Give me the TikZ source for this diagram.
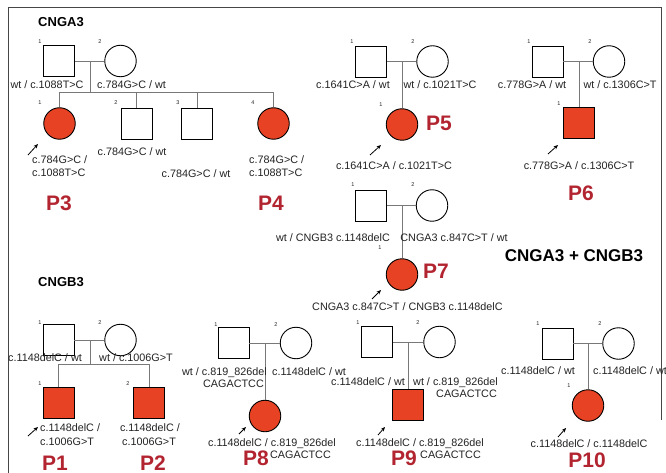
\documentclass[tikz,border=0pt]{standalone}
\usepackage{fontspec}
\setmainfont{Liberation Sans}
\usetikzlibrary{arrows.meta}
\definecolor{affc}{RGB}{232,66,36}
\definecolor{plabc}{RGB}{178,36,48}
\definecolor{lnc}{RGB}{120,120,120}
\definecolor{txtc}{RGB}{35,35,35}
\definecolor{framec}{RGB}{70,70,70}
\tikzset{
  sq/.style={draw=black, line width=0.9pt, minimum size=31pt, inner sep=0pt, fill=white},
  ci/.style={draw=black, circle, line width=0.9pt, minimum size=31.5pt, inner sep=0pt, fill=white},
  affected/.style={fill=affc},
  conn/.style={draw=lnc, line width=0.8pt},
  lab/.style={font=\fontsize{10.8}{13}\selectfont, text=txtc, inner sep=0pt, text height=7.7pt, text depth=0pt},
  num/.style={font=\fontsize{5.5}{6}\selectfont, text=txtc, inner sep=0pt},
  plabel/.style={font=\bfseries\fontsize{21}{24}\selectfont, text=plabc, inner sep=0pt, text height=15pt, text depth=0pt},
  ttl/.style={font=\bfseries\fontsize{13}{15}\selectfont, inner sep=0pt, text height=9.3pt, text depth=0pt},
  ttlbig/.style={font=\bfseries\fontsize{17}{19}\selectfont, inner sep=0pt, text height=12.2pt, text depth=0pt},
  parr/.style={-{Stealth[length=4.5pt,width=3.8pt]}, line width=0.8pt, black},
  framel/.style={draw=framec, line width=0.9pt}
}
\begin{document}
\begin{tikzpicture}[x=1pt,y=-1pt]
\useasboundingbox[fill=white] (0,0) rectangle (666,473);
% frame
\coordinate (fr1) at (8,473);
\coordinate (fr2) at (8,7);
\coordinate (fr3) at (661,7);
\coordinate (fr4) at (661,420);
\draw[framel] (fr1) -- (fr2) -- (fr3) -- (fr4);

% titles
\node[ttl] (t1) at (61,22) {CNGA3};
\node[ttl] (t2) at (61,282) {CNGB3};
\node[ttlbig] (t3) at (574,255) {CNGA3 + CNGB3};

% ===== Family A (P3, P4)
\coordinate (am) at (90,61);
\coordinate (as) at (90,92);
\node[sq] (a1) at (59,61) {};
\node[ci] (a2) at (120.5,61) {};
\node[ci,affected] (a3) at (59.5,123.5) {};
\node[sq] (a4) at (136.5,123.5) {};
\node[sq] (a5) at (197,123.5) {};
\node[ci,affected] (a6) at (273.5,123.5) {};
\draw[conn] (a1) -- (a2);
\draw[conn] (am) -- (as);
\draw[conn] (a3.north) -- (a3.north |- as) -- (a6.north |- as) -- (a6.north);
\draw[conn] (a4.north) -- (a4.north |- as);
\draw[conn] (a5.north) -- (a5.north |- as);
\node[num] (a1n) at (40,42) {1};
\node[num] (a2n) at (100,42) {2};
\node[num] (a3n) at (40,103) {1};
\node[num] (a4n) at (116,103) {2};
\node[num] (a5n) at (178,103) {3};
\node[num] (a6n) at (253,103) {4};
\node[lab] (a1l) at (47,85) {wt / c.1088T>C};
\node[lab] (a2l) at (131.5,85) {c.784G>C / wt};
\node[lab,anchor=west] (a3l1) at (32,160) {c.784G>C /};
\node[lab,anchor=west] (a3l2) at (32,173) {c.1088T>C};
\node[lab] (a4l) at (132,152) {c.784G>C / wt};
\node[lab] (a5l) at (196,174) {c.784G>C / wt};
\node[lab,anchor=west] (a6l1) at (249,160) {c.784G>C /};
\node[lab,anchor=west] (a6l2) at (249,173) {c.1088T>C};
\node[plabel] (p3) at (59,203) {P3};
\node[plabel] (p4) at (271,203) {P4};
\coordinate (a3at) at (28,155);
\coordinate (a3ah) at (38,144);
\draw[parr] (a3at) -- (a3ah);

% ===== Family B (P5)
\coordinate (bm) at (402,61.5);
\node[sq] (b1) at (371,61.5) {};
\node[ci] (b2) at (432.5,61.5) {};
\node[ci,affected] (b3) at (402,124.5) {};
\draw[conn] (b1) -- (b2);
\draw[conn] (bm) -- (b3.north);
\node[num] (b1n) at (352,42) {1};
\node[num] (b2n) at (413,42) {2};
\node[num] (b3n) at (381,105) {1};
\node[lab] (b1l) at (353,85) {c.1641C>A / wt};
\node[lab] (b2l) at (440,85) {wt / c.1021T>C};
\node[lab] (b3l) at (394,166) {c.1641C>A / c.1021T>C};
\node[plabel] (p5) at (439,123) {P5};
\coordinate (b3at) at (370,155);
\coordinate (b3ah) at (381,145);
\draw[parr] (b3at) -- (b3ah);

% ===== Family C (P6)
\coordinate (cm) at (579,61.5);
\node[sq] (c1) at (547.5,61.5) {};
\node[ci] (c2) at (609,61.5) {};
\node[sq,affected] (c3) at (579,123) {};
\draw[conn] (c1) -- (c2);
\draw[conn] (cm) -- (c3.north);
\node[num] (c1n) at (529,42) {1};
\node[num] (c2n) at (590,42) {2};
\node[num] (c3n) at (559,104) {1};
\node[lab] (c1l) at (532,85) {c.778G>A / wt};
\node[lab] (c2l) at (620,85) {wt / c.1306C>T};
\node[lab] (c3l) at (579,166) {c.778G>A / c.1306C>T};
\node[plabel] (p6) at (581,193) {P6};
\coordinate (c3at) at (548,154);
\coordinate (c3ah) at (558,145);
\draw[parr] (c3at) -- (c3ah);

% ===== Family D (P7)
\coordinate (dm) at (402,205.5);
\node[sq] (d1) at (371,205.5) {};
\node[ci] (d2) at (432,205.5) {};
\node[ci,affected] (d3) at (402,274.5) {};
\draw[conn] (d1) -- (d2);
\draw[conn] (dm) -- (d3.north);
\node[num] (d1n) at (353,185) {1};
\node[num] (d2n) at (413,185) {2};
\node[num] (d3n) at (380,248) {1};
\node[lab] (d1l) at (333,238) {wt / CNGB3 c.1148delC};
\node[lab] (d2l) at (454,238) {CNGA3 c.847C>T / wt};
\node[lab,anchor=west] (d3l) at (312,307) {CNGA3 c.847C>T / CNGB3 c.1148delC};
\node[plabel] (p7) at (436,271) {P7};
\coordinate (d3at) at (372,299);
\coordinate (d3ah) at (381,290);
\draw[parr] (d3at) -- (d3ah);

% ===== Family E (P1, P2)
\coordinate (em) at (90,340);
\coordinate (es) at (90,364);
\node[sq] (e1) at (58.5,340) {};
\node[ci] (e2) at (120.5,340) {};
\node[sq,affected] (e3) at (58.5,403) {};
\node[sq,affected] (e4) at (149,403) {};
\draw[conn] (e1) -- (e2);
\draw[conn] (em) -- (es);
\draw[conn] (e3.north) -- (e3.north |- es) -- (e4.north |- es) -- (e4.north);
\node[num] (e1n) at (40,323) {1};
\node[num] (e2n) at (100,323) {2};
\node[num] (e3n) at (40,384) {1};
\node[num] (e4n) at (128,384) {2};
\node[lab] (e1l) at (45,358) {c.1148delC / wt};
\node[lab] (e2l) at (136,358) {wt / c.1006G>T};
\node[lab,anchor=west] (e3l1) at (40,428) {c.1148delC /};
\node[lab,anchor=west] (e3l2) at (40,442) {c.1006G>T};
\node[lab] (e4l1) at (150,428) {c.1148delC /};
\node[lab] (e4l2) at (149,442) {c.1006G>T};
\node[plabel] (p1) at (55,462.5) {P1};
\node[plabel] (p2) at (153,462.5) {P2};
\coordinate (e3at) at (28,436);
\coordinate (e3ah) at (38,427);
\draw[parr] (e3at) -- (e3ah);

% ===== Family F (P8)
\coordinate (fm) at (265,343);
\node[sq] (f1) at (233.5,343) {};
\node[ci] (f2) at (296,343) {};
\node[ci,affected] (f3) at (265,416) {};
\draw[conn] (f1) -- (f2);
\draw[conn] (fm) -- (f3.north);
\node[num] (f1n) at (216,325) {1};
\node[num] (f2n) at (276,325) {2};
\node[lab,anchor=east] (f1l1) at (267,372) {wt / c.819\_826del};
\node[lab,anchor=east] (f1l2) at (264,384) {CAGACTCC};
\node[lab] (f2l) at (309,372) {c.1148delC / wt};
\node[lab,anchor=east] (f3l1) at (336,443) {c.1148delC / c.819\_826del};
\node[lab,anchor=east] (f3l2) at (331,455) {CAGACTCC};
\node[plabel] (p8) at (256,458) {P8};
\coordinate (f3at) at (239,434);
\coordinate (f3ah) at (246,427);
\draw[parr] (f3at) -- (f3ah);

% ===== Family G (P9)
\coordinate (gm) at (408,342);
\node[sq] (g1) at (377,342) {};
\node[ci] (g2) at (439.5,342) {};
\node[sq,affected] (g3) at (408,404.5) {};
\draw[conn] (g1) -- (g2);
\draw[conn] (gm) -- (g3.north);
\node[num] (g1n) at (358,323) {1};
\node[num] (g2n) at (418,323) {2};
\node[lab] (g1l) at (368,382) {c.1148delC / wt};
\node[lab,anchor=west] (g2l1) at (413,382) {wt / c.819\_826del};
\node[lab,anchor=east] (g2l2) at (497,394) {CAGACTCC};
\node[lab,anchor=west] (g3l1) at (356,443) {c.1148delC / c.819\_826del};
\node[lab,anchor=east] (g3l2) at (481,455) {CAGACTCC};
\node[plabel] (p9) at (404,458) {P9};
\coordinate (g3at) at (378,435);
\coordinate (g3ah) at (385,427);
\draw[parr] (g3at) -- (g3ah);

% ===== Family H (P10)
\coordinate (hm) at (588,343.5);
\node[sq] (h1) at (557.5,343.5) {};
\node[ci] (h2) at (618.5,343.5) {};
\node[ci,affected] (h3) at (588,405.5) {};
\draw[conn] (h1) -- (h2);
\draw[conn] (hm) -- (h3.north);
\node[num] (h1n) at (538,324) {1};
\node[num] (h2n) at (600,324) {2};
\node[num] (h3n) at (569,386) {1};
\node[lab] (h1l) at (538,371) {c.1148delC / wt};
\node[lab,anchor=west] (h2l) at (593,371) {c.1148delC / wt};
\node[lab] (h3l) at (589,444) {c.1148delC / c.1148delC};
\node[plabel] (p10) at (587,460) {P10};
\coordinate (h3at) at (558,437);
\coordinate (h3ah) at (566,428);
\draw[parr] (h3at) -- (h3ah);
\end{tikzpicture}
\end{document}
